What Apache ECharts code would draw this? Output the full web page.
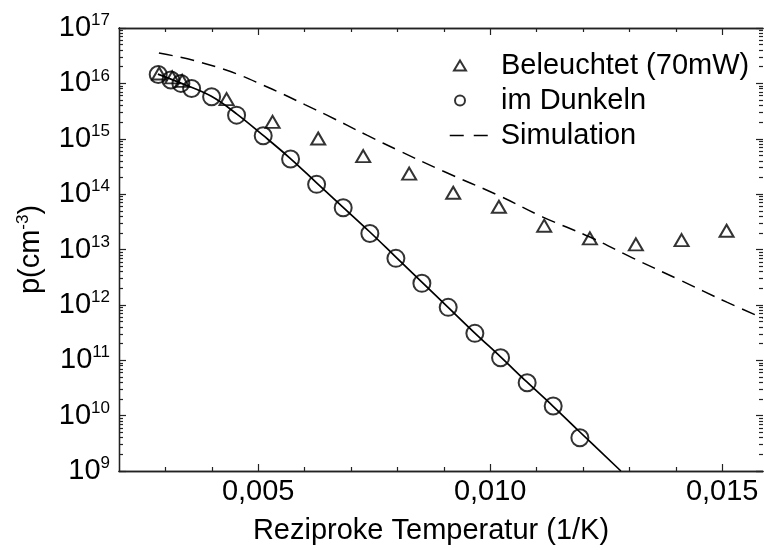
<!DOCTYPE html>
<html>
<head>
<meta charset="utf-8">
<script src="https://cdn.jsdelivr.net/npm/echarts@6/dist/echarts.min.js"></script>
<style>
html, body { margin: 0; padding: 0; background: #fff; }
#chart { width: 764px; height: 550px; }
</style>
</head>
<body>
<div id="chart"></div>
<script>
// Reziproke Temperatur 1/T (1/K) und Löcherdichte p (cm^-3)
const litX = [0.002866, 0.003147, 0.003362, 0.004319, 0.00531, 0.006293, 0.007263, 0.008254,
              0.009203, 0.010188, 0.011164, 0.012149, 0.01314, 0.014125, 0.015095];
const litP = [1.51e16, 1.28e16, 1.11e16, 5.20e15, 2.02e15, 1.01e15, 4.86e14, 2.35e14,
              1.06e14, 5.92e13, 2.69e13, 1.59e13, 1.24e13, 1.48e13, 2.18e13];

const darkX = [0.002845, 0.003119, 0.003334, 0.003565, 0.003996, 0.004534, 0.005108, 0.005698,
               0.006259, 0.006832, 0.007407, 0.007968, 0.008528, 0.009095, 0.00967, 0.010224,
               0.010797, 0.011358, 0.011933];
const darkP = [1.45e16, 1.15e16, 1.0e16, 8.1e15, 5.73e15, 2.67e15, 1.13e15, 4.30e14,
               1.50e14, 5.68e13, 1.95e13, 6.92e12, 2.45e12, 9.02e11, 3.06e11, 1.11e11,
               3.93e10, 1.49e10, 3.99e9];

// Anpassung an die Dunkelmessung
const fitX = [0.002838, 0.003334, 0.003981, 0.004541, 0.005101, 0.005683, 0.006265, 0.006825,
              0.007407, 0.007968, 0.008528, 0.009088, 0.00967, 0.01023, 0.010791, 0.011351,
              0.011933, 0.012817];
const fitP = [1.47e16, 1.01e16, 5.89e15, 2.79e15, 1.16e15, 4.48e14, 1.58e14, 5.83e13,
              2.07e13, 7.29e12, 2.58e12, 9.14e11, 3.10e11, 1.14e11, 4.05e10, 1.49e10,
              5.06e9, 1.0e9];

const simX = [0.00286, 0.003312, 0.003744, 0.004175, 0.004606, 0.00508, 0.005533, 0.006006,
              0.006481, 0.007343, 0.008054, 0.008981, 0.010209, 0.011136, 0.012149, 0.013076,
              0.014088, 0.0151, 0.015876];
const simP = [3.52e16, 2.98e16, 2.42e16, 1.89e16, 1.41e16, 9.50e15, 6.40e15, 4.14e15,
              2.67e15, 1.16e15, 5.98e14, 2.61e14, 9.23e13, 3.85e13, 1.68e13, 7.00e12,
              2.81e12, 1.12e12, 5.78e11];

const xMajorTicks = [0.005, 0.010, 0.015];
const xMinorTicks = [0.003, 0.004, 0.006, 0.007, 0.008, 0.009, 0.011, 0.012, 0.013, 0.014];
const decades = [9, 10, 11, 12, 13, 14, 15, 16];
const minorFactors = [2, 3, 4, 5, 6, 7, 8, 9];
const yMinorTicks = decades.flatMap(d => minorFactors.map(f => f * Math.pow(10, d)));

const X_MIN = 0.002, X_MAX = 0.01588;
const Y_MIN = 1e9, Y_MAX = 1e17;

const FONT = "'Liberation Sans', Arial, sans-serif";
const FS = 29;
const FS_SUP = 17;
const INK = '#000';
const AXIS = '#222';

const zip = (xs, ys) => xs.map((x, i) => [x, ys[i]]);

function xAxisDef(pos, values, len, withLabels) {
  return {
    type: 'value', position: pos, min: X_MIN, max: X_MAX,
    axisLine: { show: true, onZero: false, lineStyle: { color: AXIS, width: 1.3 } },
    axisTick: { show: true, inside: true, length: len, customValues: values,
                lineStyle: { color: AXIS, width: 1.2 } },
    axisLabel: withLabels ? {
      show: true, customValues: values, margin: 6,
      fontFamily: FONT, fontSize: FS, color: INK,
      formatter: v => v.toFixed(3).replace('.', ',')
    } : { show: false },
    splitLine: { show: false }
  };
}

function yAxisDef(pos, values, len, withLabels, lineShow) {
  const axis = {
    type: 'log', logBase: 10, position: pos, min: Y_MIN, max: Y_MAX,
    axisLine: { show: lineShow, onZero: false, lineStyle: { color: AXIS, width: 1.3 } },
    axisTick: { show: true, inside: true, length: len, lineStyle: { color: AXIS, width: 1.2 } },
    axisLabel: withLabels ? {
      show: true, margin: 9, color: INK, fontFamily: FONT,
      formatter: v => '{b|10}{s|' + Math.round(Math.log10(v)) + '}',
      rich: {
        b: { fontSize: FS, fontFamily: FONT, color: INK },
        s: { fontSize: FS_SUP, fontFamily: FONT, color: INK, padding: [0, 0, 15, 0] }
      }
    } : { show: false },
    splitLine: { show: false }
  };
  if (values) axis.axisTick.customValues = values;
  return axis;
}

const xBottom = xAxisDef('bottom', xMajorTicks, 7, true);
xBottom.name = 'Reziproke Temperatur (1/K)';
xBottom.nameLocation = 'middle';
xBottom.nameGap = 45;
xBottom.nameTextStyle = { fontFamily: FONT, fontSize: FS, color: INK, padding: [0, 20, 0, 0] };

const yLeft = yAxisDef('left', null, 7, true, true);
yLeft.name = 'p(cm{s|-3})';
yLeft.nameLocation = 'middle';
yLeft.nameRotate = 90;
yLeft.nameGap = 72;
yLeft.nameTextStyle = {
  fontFamily: FONT, fontSize: FS, color: INK,
  rich: { s: { fontSize: FS_SUP, fontFamily: FONT, color: INK, padding: [0, 0, 15, 0] } }
};

const option = {
  backgroundColor: '#fff',
  animation: false,
  grid: { left: 119, right: 1, top: 28, bottom: 79, containLabel: false },
  xAxis: [
    xBottom,
    xAxisDef('bottom', xMinorTicks, 4, false),
    xAxisDef('top', xMajorTicks, 7, false),
    xAxisDef('top', xMinorTicks, 4, false)
  ],
  yAxis: [
    yLeft,
    yAxisDef('left', yMinorTicks, 4, false, true),
    yAxisDef('right', null, 7, false, false),
    yAxisDef('right', yMinorTicks, 4, false, false)
  ],
  legend: [
    {
      orient: 'vertical', left: 448, top: 46, itemWidth: 12, itemHeight: 10, itemGap: 6,
      symbolKeepAspect: true,
      textStyle: { fontFamily: FONT, fontSize: FS, color: INK, padding: [0, 0, 0, 30] },
      data: [
        { name: 'Beleuchtet (70mW)', icon: 'triangle' },
        { name: 'im Dunkeln', icon: 'circle' }
      ]
    },
    {
      orient: 'vertical', left: 444, top: 116, itemWidth: 38, itemHeight: 10,
      textStyle: { fontFamily: FONT, fontSize: FS, color: INK, padding: [0, 0, 0, 8] },
      data: [{
        name: 'Simulation',
        itemStyle: { opacity: 0 },
        lineStyle: { color: INK, width: 1.5, type: [14, 10] }
      }]
    }
  ],
  series: [
    {
      name: 'Simulation', type: 'line', data: zip(simX, simP), symbol: 'none',
      smooth: 0.4, lineStyle: { color: INK, width: 1.5, type: [14, 8] },
      itemStyle: { color: INK }, z: 2
    },
    {
      name: 'Fit', type: 'line', data: zip(fitX, fitP), symbol: 'none',
      smooth: 0.4, lineStyle: { color: INK, width: 1.7 }, z: 2
    },
    {
      name: 'Beleuchtet (70mW)', type: 'scatter', data: zip(litX, litP),
      symbol: 'triangle', symbolSize: [14, 12],
      itemStyle: { color: 'rgba(0,0,0,0)', borderColor: INK, borderWidth: 2 }, z: 3
    },
    {
      name: 'im Dunkeln', type: 'scatter', data: zip(darkX, darkP),
      symbol: 'circle', symbolSize: 17,
      itemStyle: { color: 'rgba(0,0,0,0)', borderColor: INK, borderWidth: 2 }, z: 3
    }
  ]
};

const chart = echarts.init(document.getElementById('chart'), null, { renderer: 'canvas' });
chart.setOption(option);
</script>
</body>
</html>
